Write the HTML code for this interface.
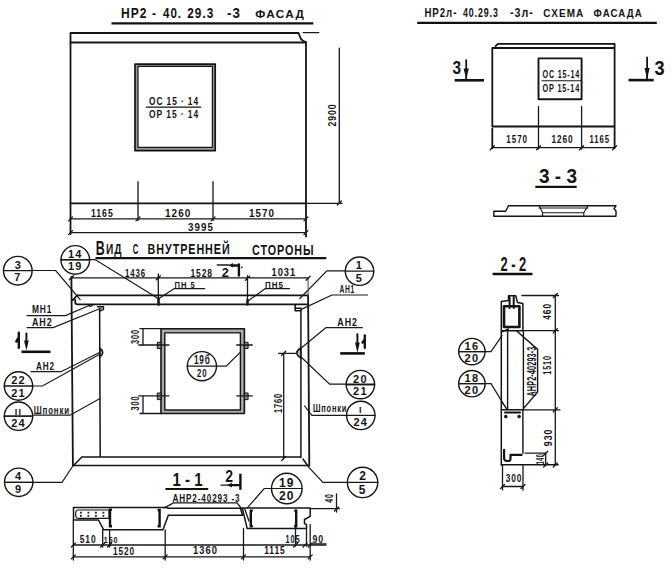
<!DOCTYPE html>
<html><head><meta charset="utf-8">
<style>
html,body{margin:0;padding:0;background:#fff;width:672px;height:571px;overflow:hidden}
svg{display:block}
.m{stroke:#141414;stroke-width:1.8;fill:none;stroke-linecap:round;stroke-linejoin:round}
.d{stroke:#181818;stroke-width:1.3;fill:none;stroke-linecap:round}
.k{stroke:#111;stroke-width:2.4;fill:none;stroke-linecap:butt}
text{font-family:"Liberation Sans",sans-serif;font-weight:bold;fill:#141414;letter-spacing:1.2px}
.s11{font-size:11px}
.s10{font-size:10px}
.s9{font-size:9px}
.s14{font-size:14.5px}
</style></head>
<body>
<svg width="672" height="571" viewBox="0 0 672 571">

<!-- ============ FACADE (top-left) ============ -->
<g style="font-size:14px">
<text x="120.9" y="17.5" textLength="26.6" lengthAdjust="spacingAndGlyphs">НР2</text>
<text x="152" y="17.5" textLength="5" lengthAdjust="spacingAndGlyphs">-</text>
<text x="163" y="17.5" textLength="19" lengthAdjust="spacingAndGlyphs">40.</text>
<text x="187.3" y="17.5" textLength="27" lengthAdjust="spacingAndGlyphs">29.3</text>
<text x="227" y="17.5" textLength="14.2" lengthAdjust="spacingAndGlyphs">-3</text>
<text x="255.3" y="17.5" textLength="50" lengthAdjust="spacingAndGlyphs" style="font-size:11px">ФАСАД</text>
</g>
<path class="k" d="M111.5 23.4 H313.3" style="stroke-width:2.1"/>
<path class="m" d="M70.5 234 V33 H298.6 L300.4 37.8 Q302 41 306 42 V236.5"/>
<path class="m" d="M70.5 42.5 H306"/>
<path class="d" d="M303.2 32.6 H318.8"/>
<path class="m" d="M70.5 203.3 H306"/>
<path class="d" d="M306 203.3 H342"/>
<!-- window -->
<path d="M135 64.2 H215.2 V150.7 H135 Z M138 66.3 V147.4 H212.4 V66.3 Z" fill="#9a9a9a" fill-rule="evenodd"/>
<rect class="m" x="135" y="64.2" width="80.2" height="86.5" style="stroke-width:1.7"/>
<rect class="m" x="138" y="66.3" width="74.4" height="81.1" style="stroke-width:1.2"/>
<text class="s11" x="149" y="105" textLength="50" lengthAdjust="spacingAndGlyphs">ОС 15 · 14</text>
<path class="m" d="M146.3 107.1 H200.7" style="stroke-width:1.4"/>
<text class="s11" x="149" y="117.5" textLength="50" lengthAdjust="spacingAndGlyphs">ОР 15 · 14</text>
<!-- dims -->
<path class="d" d="M138 181.7 V220.5 M213 181.7 V220.5"/>
<path class="d" d="M70.5 218.9 H306 M70.5 232.6 H306"/>
<path class="d" d="M68.5 220.9 L72.5 216.9 M136 220.9 L140 216.9 M211 220.9 L215 216.9 M304 220.9 L308 216.9 M68.5 234.6 L72.5 230.6 M304 234.6 L308 230.6"/>
<text class="s11" x="91" y="216.7" textLength="22.7" lengthAdjust="spacingAndGlyphs">1165</text>
<text class="s11" x="165" y="216.7" textLength="26.5" lengthAdjust="spacingAndGlyphs">1260</text>
<text class="s11" x="249" y="216.7" textLength="26" lengthAdjust="spacingAndGlyphs">1570</text>
<text class="s11" x="188" y="231" textLength="26" lengthAdjust="spacingAndGlyphs">3995</text>
<path class="d" d="M339.3 48.2 V203 M337.3 205 L341.3 201"/>
<text class="s11" transform="translate(335.5 115) rotate(-90)" x="-11.5" y="0" textLength="23" lengthAdjust="spacingAndGlyphs">2900</text>

<!-- ============ SCHEMA (top-right) ============ -->
<g style="font-size:12px">
<text x="424.4" y="17" textLength="33" lengthAdjust="spacingAndGlyphs">НР2л-</text>
<text x="463" y="17" textLength="35.7" lengthAdjust="spacingAndGlyphs">40.29.3</text>
<text x="509.9" y="17" textLength="24.1" lengthAdjust="spacingAndGlyphs">-3л-</text>
<text x="543.3" y="17" textLength="41" lengthAdjust="spacingAndGlyphs" style="font-size:11px">СХЕМА</text>
<text x="593.6" y="17" textLength="49.1" lengthAdjust="spacingAndGlyphs" style="font-size:11px">ФАСАДА</text>
</g>
<path class="k" d="M417.2 22.9 H656.8" style="stroke-width:2.1"/>
<path class="m" d="M492.3 126.5 V48 H614.6 M495.6 46.2 L497.9 43.9 H614.6 V148 M492.3 126.5 H614.6 M492.3 128.7 V148"/>
<rect class="m" x="538.5" y="58.4" width="43.1" height="40.9" style="stroke-width:1.9"/>
<text x="542.5" y="78.3" textLength="37.5" lengthAdjust="spacingAndGlyphs" style="font-size:11px">ОС 15-14</text>
<path class="m" d="M542 80.7 H581" style="stroke-width:1.1"/>
<text x="542.5" y="91.6" textLength="37.5" lengthAdjust="spacingAndGlyphs" style="font-size:11px">ОР 15-14</text>
<path class="d" d="M538.5 106.4 V149 M581.6 106.4 V149 M492.3 147.7 H614.6"/>
<path class="d" d="M490.3 149.7 L494.3 145.7 M536.5 149.7 L540.5 145.7 M579.6 149.7 L583.6 145.7 M612.6 149.7 L616.6 145.7"/>
<text class="s10" x="506.3" y="143.3" textLength="21.7" lengthAdjust="spacingAndGlyphs">1570</text>
<text class="s10" x="551.4" y="143.3" textLength="22.3" lengthAdjust="spacingAndGlyphs">1260</text>
<text class="s10" x="589.4" y="143.3" textLength="20.5" lengthAdjust="spacingAndGlyphs">1165</text>
<!-- section marks 3 -->
<text x="452.6" y="74.4" textLength="8.6" lengthAdjust="spacingAndGlyphs" style="letter-spacing:0;font-size:18.5px">3</text>
<path class="m" d="M466.2 60.2 V80" style="stroke-width:1.8"/><path d="M463.6 68.4 L466.2 79 L468.8 68.4 Z" fill="#141414"/>
<path class="k" d="M454.7 80.3 H484" style="stroke-width:2.6"/>
<path class="m" d="M647.1 57.5 V80" style="stroke-width:1.8"/><path d="M644.5 68 L647.1 79 L649.7 68 Z" fill="#141414"/>
<path class="k" d="M628.5 80.1 H653.7" style="stroke-width:2.6"/>
<text x="654.4" y="74.8" textLength="10.1" lengthAdjust="spacingAndGlyphs" style="letter-spacing:0;font-size:20.5px">3</text>

<!-- 3-3 -->
<text x="539" y="182.7" textLength="38" lengthAdjust="spacingAndGlyphs" style="letter-spacing:0;font-size:20.5px;white-space:pre">3 - 3</text>
<path class="k" d="M535.3 186.9 H576.7" style="stroke-width:2.4"/>
<path class="m" d="M493.8 216.2 V211.2 H505.7 L508.4 205.8 H616 L614 208.5 L616 211 V216.2 Z" style="stroke-width:1.4"/>
<path class="m" d="M539 205.8 L542.6 212.7 H583.8 L588 205.8 M539 208 H588 M542.6 213.3 V216.2 M583.8 213.3 V216.2" style="stroke-width:1.1"/>

<!-- 2-2 title -->
<text x="500.4" y="270.9" textLength="25.9" lengthAdjust="spacingAndGlyphs" style="letter-spacing:0;font-size:19.5px;white-space:pre">2 - 2</text>
<path class="k" d="M492.6 274 H532.5" style="stroke-width:2.4"/>


<!-- ============ INTERIOR VIEW ============ -->
<g style="font-size:14px">
<text x="95.7" y="254.8" textLength="9" lengthAdjust="spacingAndGlyphs" style="letter-spacing:0;font-size:20.5px">В</text>
<text x="106" y="254.4" textLength="16.3" lengthAdjust="spacingAndGlyphs">ИД</text>
<text x="132.7" y="254.4" textLength="6.3" lengthAdjust="spacingAndGlyphs">С</text>
<text x="147.6" y="254.4" textLength="83" lengthAdjust="spacingAndGlyphs">ВНУТРЕННЕЙ</text>
<text x="252" y="254.6" textLength="62.4" lengthAdjust="spacingAndGlyphs">СТОРОНЫ</text>
</g>
<path class="k" d="M95.5 258.1 H326.3" style="stroke-width:2.2"/>
<!-- circles top -->
<g class="m" style="stroke-width:1.4">
<circle cx="17.8" cy="270.7" r="14.3"/>
<circle cx="75.3" cy="259.9" r="14.3"/>
<circle cx="359.5" cy="271.2" r="14.2"/>
<circle cx="18.5" cy="386" r="14.2"/>
<circle cx="18.5" cy="416.2" r="14.2"/>
<circle cx="18.7" cy="482.3" r="14.2"/>
<circle cx="201.9" cy="366.2" r="14.6"/>
<circle cx="360.4" cy="384.6" r="14.2"/>
<circle cx="360.8" cy="415.4" r="14.2"/>
<circle cx="362.6" cy="482.4" r="15.2"/>
<circle cx="286.8" cy="488.5" r="15.3"/>
<circle cx="471.9" cy="351.6" r="13.2"/>
<circle cx="471.9" cy="383.7" r="13.2"/>
</g>
<path class="d" style="stroke-width:1.2" d="M3.5 270.7 H32.1 M61.0 259.9 H89.6 M345.3 271.2 H373.7 M4.3 386 H32.7 M4.3 416.2 H32.7 M4.5 482.3 H32.9 M187.3 366.2 H216.5 M346.2 384.6 H374.6 M346.6 415.4 H375.0 M347.4 482.4 H377.8 M271.5 488.5 H302.1 M458.7 351.6 H485.1 M458.7 383.7 H485.1"/>

<!-- leaders -->
<path class="d" style="stroke-width:1.2" d="
M3.5 270.5 H55.7 L80.2 299.7
M61 259.6 H95 L158.6 298.8
M174 288.7 H204.7 M174 288.7 L158.6 298.8
M265 288.7 H289.5 M265 288.7 L247.3 301.5
M345.3 270.8 H326.9 L299.8 298.5
M332 295 H367.5 M332 295 L300.8 309.6
M325.8 327.7 H362.3 M325.8 327.7 L297 351.5
M27 315.6 H65.5 L89.2 305.5
M27 327.6 H53.2 L101.5 308
M31 371.7 H61 L100 352.2
M4.3 386 H42.5 L101 353.5
M32.5 415.2 H70 L100 398.5
M4.3 416.2 H32.5
M4.5 482.3 H62 L72.5 466.5
M216.5 366.2 H226.2 L241.9 350.6
M300 356 L329.6 384.2 H374.6
M346.6 415.4 H311.9 L304.6 406
M374.6 384.6 H346.2
M347.4 482.4 H322.9 L307.5 465.8
M271.5 488.5 H264.2 L247.5 507.7
M458.7 351.6 H491 L502 335.6
M458.7 383.7 H491 L502 401.6
"/>
<!-- fractions in circles -->
<g class="s11" text-anchor="middle" style="letter-spacing:0">
<text style="letter-spacing:0" x="17.8" y="268.6">3</text><text x="17.8" y="281.2">7</text>
<text x="75.3" y="257.5">14</text><text x="75.3" y="270.3">19</text>
<text x="359.5" y="269.0">1</text><text x="359.5" y="281.5">5</text>
<text x="18.5" y="384.0">22</text><text x="18.5" y="396.5">21</text>
<text x="18.5" y="414.5" style="font-size:9px">II</text><text x="18.5" y="427">24</text>
<text x="18.7" y="480.3">4</text><text x="18.7" y="492.8">9</text>
<text x="202.3" y="364.2" textLength="16.6" lengthAdjust="spacingAndGlyphs" style="font-size:12.5px">19б</text><text x="202.3" y="376.7" textLength="10.5" lengthAdjust="spacingAndGlyphs" style="font-size:10.5px">20</text>
<text x="360.4" y="382.6">20</text><text x="360.4" y="395">21</text>
<text x="360.8" y="413.4" style="font-size:9px">I</text><text x="360.8" y="425.8">24</text>
<text x="362.6" y="480.4" style="letter-spacing:0;font-size:12px">2</text><text x="362.6" y="493.5" style="font-size:12px">5</text>
<text x="286.8" y="486.5" style="font-size:12px">19</text><text x="286.8" y="499.6" style="font-size:12px">20</text>
<text x="471.9" y="349.6">16</text><text x="471.9" y="362">20</text>
<text x="471.9" y="381.7">18</text><text x="471.9" y="394">20</text>
</g>
<!-- panel -->
<path class="m" d="M71.4 276.8 L72.9 465.6 M77 295.4 H308.1 M77 295.4 L73 300 M75.3 300 V302.5 Q75.3 304.3 77.5 304.3 H308.1 M308.1 295.4 L309.3 465.6"/><path d="M308.1 278 V295.4" stroke="#555" stroke-width="1.1"/>
<path class="m" d="M99.6 309 L100.2 457 M300.9 310.8 V457.5 M81.9 457 H301 M72.9 465.5 H309.3 M74.5 464.6 L81.9 457 M303 459 L307.5 465.5" style="stroke-width:1.5"/>
<path class="m" d="M88.4 304.8 q2.2 3 4.4 0 M97.5 306.8 h6 v2.5 l-4 2" style="stroke-width:1.4"/>
<path class="m" d="M295.2 305 V310.8 H300.9 M295.5 308.2 H301" style="stroke-width:1.6"/>
<path d="M100 348.5 q5.5 3.5 0 8.5 z M300.8 348 q-8 5 0 10 z" fill="#bbb" stroke="#141414" stroke-width="1.5"/>
<!-- top dims -->
<path class="d" d="M71.4 277.8 H308.1 M158.3 274 V304.7 M247.5 275.6 V304.2 M69.4 279.8 L73.4 275.8 M156.3 279.8 L160.3 275.8 M245.5 280.2 L249.5 276.2 M306.1 280.3 L310.1 276.3"/>
<text class="s11" x="125" y="276.5" textLength="21" lengthAdjust="spacingAndGlyphs">1436</text>
<text class="s11" x="190.5" y="276.5" textLength="22.5" lengthAdjust="spacingAndGlyphs">1528</text>
<text class="s11" x="271.5" y="276.3" textLength="24.7" lengthAdjust="spacingAndGlyphs">1031</text>
<text x="221.7" y="276.6" textLength="7.1" lengthAdjust="spacingAndGlyphs" style="letter-spacing:0;font-size:13px">2</text>
<path class="d" d="M217.3 265 H229"/><path class="k" d="M231 265.5 H237.7 M238.9 263.6 V276.6" style="stroke-width:2.4"/><path d="M228.5 265.3 L233 263 V267.6 Z" fill="#141414"/><circle cx="241.8" cy="267.3" r="0.9" fill="#141414"/>
<text x="174.6" y="287.6" textLength="21.2" lengthAdjust="spacingAndGlyphs" style="font-size:9.5px;white-space:pre">ПН 5</text><path class="m" d="M158.6 298.8 V304.5" style="stroke-width:2.4"/>
<text x="265" y="287.6" textLength="18.9" lengthAdjust="spacingAndGlyphs" style="font-size:9.5px">ПН5</text><path class="m" d="M247.5 300 V304.5" style="stroke-width:2.4"/>
<text class="s11" x="339.4" y="292.9" textLength="15.6" lengthAdjust="spacingAndGlyphs">АН1</text>
<text class="s11" x="337.3" y="325.6" textLength="20.7" lengthAdjust="spacingAndGlyphs">АН2</text>
<text class="s11" x="31.9" y="312.8" textLength="20.5" lengthAdjust="spacingAndGlyphs">МН1</text>
<text class="s11" x="31.9" y="326" textLength="20.8" lengthAdjust="spacingAndGlyphs">АН2</text>
<text class="s11" x="36" y="369.8" textLength="19" lengthAdjust="spacingAndGlyphs">АН2</text>
<text class="s11" x="33.7" y="414" textLength="36.3" lengthAdjust="spacingAndGlyphs">Шпонки</text>
<text class="s11" x="312.9" y="412.3" textLength="34.4" lengthAdjust="spacingAndGlyphs">Шпонки</text>
<!-- section marks 1 -->
<path class="m" d="M18.8 332.8 V347.8 M18.8 337.5 L16.3 341.5" style="stroke-width:2.4"/>
<path class="m" d="M26.4 333.5 V343" style="stroke-width:2"/><path d="M24 340.5 L26.4 350.5 L28.8 340.5 Z" fill="#141414"/>
<path class="k" d="M21.5 351.8 H50.5" style="stroke-width:2.6"/>
<path class="m" d="M357.4 334.3 V345" style="stroke-width:2"/><path d="M355 342.5 L357.4 352.7 L359.8 342.5 Z" fill="#141414"/>
<path class="m" d="M364.8 335.5 V347.8 M364.8 339.5 L362.5 342.5" style="stroke-width:2.4"/>
<path class="k" d="M340.2 353.4 H364.8" style="stroke-width:2.6"/>
<!-- window -->
<path d="M161 328.7 H244.4 V413.5 H161 Z M164.8 332.9 V410 H240.4 V332.9 Z" fill="#ababab" fill-rule="evenodd"/>
<rect class="m" x="161" y="328.7" width="83.4" height="84.8" style="stroke-width:1.6"/>
<rect class="m" x="164.8" y="332.9" width="75.6" height="77.1" style="stroke-width:1.4"/>
<path d="M157.3 342.3 h3.7 v6.2 h-3.7 z M157.3 393 h3.7 v6.6 h-3.7 z M244.4 342.3 h3.7 v6.2 h-3.7 z M244.4 393 h3.7 v6.6 h-3.7 z" fill="#888" stroke="#141414" stroke-width="1"/>
<path class="d" d="M138.7 345 H169 M236.7 345 H252.3 M138.7 395.8 H169 M236.7 395.8 H252.3 M140 328.7 H161 M140 413.5 H161 M143 328.7 V345 M143 395.8 V413.5"/>
<text class="s10" transform="translate(139.3 336.5) rotate(-90)" x="0" y="0" text-anchor="middle" textLength="15" lengthAdjust="spacingAndGlyphs">300</text>
<text class="s10" transform="translate(139.3 403) rotate(-90)" x="0" y="0" text-anchor="middle" textLength="15" lengthAdjust="spacingAndGlyphs">300</text>
<!-- 1760 -->
<path class="d" d="M278.5 353.3 H296 M283.7 353.3 V458.5 M281.7 460.5 L285.7 456.5 M281.7 355.3 L285.7 351.3"/>
<text class="s11" transform="translate(282 403) rotate(-90)" x="0" y="0" text-anchor="middle" textLength="20" lengthAdjust="spacingAndGlyphs">1760</text>


<!-- ============ SECTION 1-1 ============ -->
<text x="172.5" y="486.4" textLength="30" lengthAdjust="spacingAndGlyphs" style="letter-spacing:0;font-size:18.5px;white-space:pre">1 - 1</text>
<path class="k" d="M165.4 489.1 H208.2" style="stroke-width:2"/>
<text x="225.3" y="481.7" textLength="7.8" lengthAdjust="spacingAndGlyphs" style="letter-spacing:0;font-size:16.5px">2</text>
<path class="d" d="M221 485.1 H229"/><path class="k" d="M229.6 485.1 H240.4 M240.4 473.7 V489.8"/><path d="M227 485.1 L232 482.8 V487.4 Z" fill="#141414"/>
<text class="s11" x="172.5" y="501.5" textLength="68" lengthAdjust="spacingAndGlyphs">АНР2-40293  -3</text>
<path class="d" d="M164.2 507.9 L173.5 502.9 H237 L241.5 508.5"/>
<!-- profile -->
<path class="m" style="stroke-width:1.5" d="M73.5 507.5 H166 L168.3 508.3 H240.4 L242.5 515.2 H168.3 L163 529.8 H103.7 L98.5 520 H73.5 Z"/>
<path class="m" style="stroke-width:1.5" d="M242.3 508.1 H310.2 V516.3 L304.5 519.5 V523.6 L306.5 524.5 V528.6 H247.2 Z"/>
<path class="d" d="M244.7 509 L249 521"/>
<path class="m" style="stroke-width:1.2" d="M78 510 H109 V518.3 H78 Q75.6 518.3 75.6 514.1 Q75.6 510 78 510"/>
<g fill="#222"><rect x="80" y="511.8" width="1.8" height="1.8"/><rect x="80" y="515" width="1.8" height="1.8"/><rect x="87.5" y="511.8" width="1.8" height="1.8"/><rect x="87.5" y="515" width="1.8" height="1.8"/><rect x="95" y="511.8" width="1.8" height="1.8"/><rect x="95" y="515" width="1.8" height="1.8"/><rect x="102.5" y="511.8" width="1.8" height="1.8"/><rect x="102.5" y="515" width="1.8" height="1.8"/></g>
<path class="k" d="M112 509.6 H110 V526.2 H112 M157.6 510 H159.6 V526.2 H157.6 M252.8 510.6 H250.8 V526.2 H252.8 M294.2 510.6 H296.2 V526.2 H294.2"/>
<!-- dims -->
<path class="d" d="M73.3 520 V560 M102.7 529.8 V547 M109.6 529.8 V547 M165.2 530 V560 M243.5 528.3 V560 M295.5 524 V546 M306.5 528.6 V546 M310.2 524.5 V560 M73.3 545 H326 M73.3 556.9 H310.2 M310 508.7 H339.5 M336.5 494 V512"/>
<path class="d" d="M71.3 547 L75.3 543 M100.7 547 L104.7 543 M107.6 547 L111.6 543 M293.6 547 L297.6 543 M303 547 L307 543 M308.2 547 L312.2 543 M71.3 558.9 L75.3 554.9 M163.2 558.9 L167.2 554.9 M241.5 558.9 L245.5 554.9 M308.2 558.9 L312.2 554.9 M334.5 511 L338.5 507"/>
<text class="s11" x="79.8" y="543" textLength="16.7" lengthAdjust="spacingAndGlyphs">510</text>
<text class="s9" x="103.8" y="542.5" textLength="14.5" lengthAdjust="spacingAndGlyphs">150</text>
<text class="s11" x="113" y="554.8" textLength="22" lengthAdjust="spacingAndGlyphs">1520</text>
<text class="s11" x="193" y="554" textLength="25" lengthAdjust="spacingAndGlyphs">1360</text>
<text class="s11" x="264.2" y="554" textLength="21.3" lengthAdjust="spacingAndGlyphs">1115</text>
<text class="s10" x="285.5" y="542.8" textLength="15" lengthAdjust="spacingAndGlyphs">105</text>
<text class="s11" x="312.4" y="543.3" textLength="11.5" lengthAdjust="spacingAndGlyphs">90</text>
<path class="d" d="M311 543.8 H326"/>
<text class="s10" transform="translate(333 498) rotate(-90)" x="0" y="0" text-anchor="middle" textLength="9.5" lengthAdjust="spacingAndGlyphs">40</text>

<!-- ============ SECTION 2-2 ============ -->
<path class="m" style="stroke-width:1.5" d="M501.3 465 V301.5 L508.5 300.5 V295.8 H515.8 L517.4 302.6 L522.9 303.6 V330.7 M501.3 330.7 H522.9"/>
<path class="m" style="stroke-width:2.6" d="M504 306.2 H519.4 V327 H504 Z"/>
<path class="m" style="stroke-width:2" d="M509.6 297 V308 M513.7 297 V308"/>
<path class="m" style="stroke-width:1.4" d="M507.6 331 V409.8 M502.8 331.7 L508.5 329 M517 331.3 L537.6 349.4 V392 L523.4 408.6 M523.4 331.3 V409.8 M501.3 409.8 H522.9 V453.2 M501.3 464.8 H558.2"/>
<path class="m" style="stroke-width:1.4" d="M502 402 L506.3 408.4"/>
<path class="m" style="stroke-width:2" d="M505 412.5 H520"/>
<g fill="#1a1a1a"><circle cx="505.8" cy="416.6" r="1.8"/><circle cx="519.1" cy="416.6" r="1.8"/></g>
<path class="m" style="stroke-width:2.2" d="M504.1 449.9 V458 Q504.1 461 507 461 H509 Q510.5 461 510.5 458 V454.9 H521.6"/>
<!-- dims -->
<path class="d" d="M522 295.5 H558.5 M522.9 330.7 H558.5 M522.9 409.8 H560 M555.3 295.5 V465 M525 453.2 H545 M545.7 453.2 V465 M502.5 465 V490 M523 465 V490 M502.5 486.5 H523"/>
<path class="d" d="M553.3 297.5 L557.3 293.5 M553.3 332.7 L557.3 328.7 M553.3 411.8 L557.3 407.8 M553.3 467 L557.3 463 M543.7 455.2 L547.7 451.2 M543.7 467 L547.7 463 M500.5 488.5 L504.5 484.5 M521 488.5 L525 484.5"/>
<text class="s11" transform="translate(551 311.4) rotate(-90)" x="0" y="0" text-anchor="middle" textLength="16.7" lengthAdjust="spacingAndGlyphs">460</text>
<text class="s10" transform="translate(551.3 364.9) rotate(-90)" x="0" y="0" text-anchor="middle" textLength="19.7" lengthAdjust="spacingAndGlyphs">1510</text>
<text class="s11" transform="translate(552 437.4) rotate(-90)" x="0" y="0" text-anchor="middle" textLength="17.5" lengthAdjust="spacingAndGlyphs">930</text>
<text transform="translate(543.5 459) rotate(-90)" x="0" y="0" text-anchor="middle" textLength="10.5" lengthAdjust="spacingAndGlyphs" style="font-size:10.5px">140</text>
<text transform="translate(536.3 371.5) rotate(-90)" x="0" y="0" text-anchor="middle" textLength="50" lengthAdjust="spacingAndGlyphs" style="font-size:13px;letter-spacing:0.3px">АНР2-40293-3</text>
<text class="s11" x="505.8" y="481.5" textLength="16.6" lengthAdjust="spacingAndGlyphs">300</text>

</svg>
</body></html>
